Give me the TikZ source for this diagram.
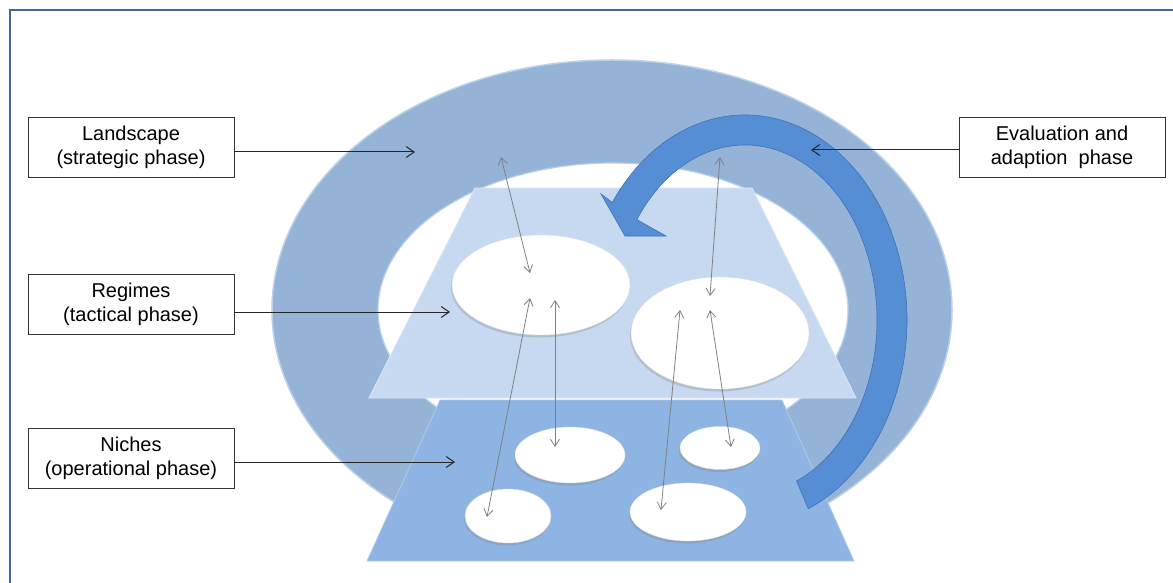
\documentclass[tikz,border=0pt]{standalone}
\usepackage{fontspec}
\setmainfont{Liberation Sans}
\usetikzlibrary{shapes.geometric,arrows.meta,shadows,calc}

\definecolor{ringblue}{RGB}{149,179,215}
\definecolor{ringrim}{RGB}{188,208,232}
\definecolor{regplane}{RGB}{198,217,240}
\definecolor{nicplane}{RGB}{141,180,226}
\definecolor{evalblue}{RGB}{85,142,212}
\definecolor{evaledge}{RGB}{66,114,178}
\definecolor{framecol}{RGB}{70,100,148}

\tikzset{
  phasebox/.style={draw=black!80, line width=0.9pt, fill=white, minimum width=206pt,
    minimum height=60pt, align=center, inner sep=0pt, font=\fontsize{20}{24}\selectfont},
  blob/.style={ellipse, fill=white, draw=black!12, line width=0.4pt, inner sep=0pt,
    drop shadow={opacity=0.3, shadow xshift=-1pt, shadow yshift=-2.5pt}},
  link/.style={draw=black!50, line width=0.8pt,
    {Straight Barb[length=7pt,width=9pt]}-{Straight Barb[length=7pt,width=9pt]}},
  callout/.style={draw=black!85, line width=1pt, -{Straight Barb[length=8pt,width=11pt]}},
}

\begin{document}
\begin{tikzpicture}[x=1pt,y=-1pt]
        \useasboundingbox (0,0) rectangle (1173,583);
        \draw[framecol, line width=2.2pt] (1173,10) -- (10,10) -- (10,583);

        % landscape ring
        \fill[ringblue, even odd rule] (612,310) ellipse [x radius=340, y radius=250]
                                       (613,310) ellipse [x radius=235, y radius=147];
        \draw[ringrim, line width=1.5pt] (612,310) ellipse [x radius=340, y radius=250];
        \draw[ringrim, line width=1.2pt] (613,310) ellipse [x radius=235, y radius=147];

        % planes
        \fill[nicplane, draw=nicplane!70!white, line width=0.8pt]
              (440,400) -- (782,400) -- (854,561) -- (367,561) -- cycle;
        \fill[regplane, draw=regplane!60!white, line width=0.8pt]
              (475,188) -- (752,188) -- (856,398) -- (369,398) -- cycle;

        % evaluation arrow
        \coordinate (evc) at (745,320);
        \filldraw[fill=evalblue, draw=evaledge, line width=0.6pt]
              (evc) ++(67:162 and 205) arc[start angle=67, end angle=-145, x radius=162, y radius=205]
              -- (601,194) -- (625,236) -- (666,236)
              -- ($(evc)+(-145:132 and 175)$) arc[start angle=-145, end angle=67, x radius=132, y radius=175]
              -- cycle;

        % regimes and niches
        \node[blob, minimum width=178pt, minimum height=100pt] (regL) at (541,285) {};
        \node[blob, minimum width=178pt, minimum height=112pt] (regR) at (720,333) {};
        \node[blob, minimum width=110pt, minimum height=56pt] (nicA) at (570,455) {};
        \node[blob, minimum width=80pt, minimum height=43pt] (nicB) at (720,448) {};
        \node[blob, minimum width=86pt, minimum height=54pt] (nicC) at (508,516) {};
        \node[blob, minimum width=116pt, minimum height=58pt] (nicD) at (688,512) {};

        \coordinate (ringL) at (501,157);
        \coordinate (ringR) at (720,157);
        \coordinate (regLtop) at (530,273);
        \coordinate (regLa) at (530,298);
        \coordinate (regLb) at (555,300);
        \coordinate (regRtop) at (710,296);
        \coordinate (regRa) at (680,310);
        \coordinate (regRb) at (710,310);
        \coordinate (nicAin) at (555,447);
        \coordinate (nicBin) at (731,447);
        \coordinate (nicCin) at (487,517);
        \coordinate (nicDin) at (661,510);

        \draw[link] (ringL) -- (regLtop);
        \draw[link] (ringR) -- (regRtop);
        \draw[link] (regLa) -- (nicCin);
        \draw[link] (regLb) -- (nicAin);
        \draw[link] (regRa) -- (nicDin);
        \draw[link] (regRb) -- (nicBin);

        % phase labels
        \node[phasebox] (land) at (131,147) {Landscape\\(strategic phase)};
        \node[phasebox] (regi) at (131,304) {Regimes\\(tactical phase)};
        \node[phasebox] (nich) at (131,458) {Niches\\(operational phase)};
        \node[phasebox] (eval) at (1062,147) {Evaluation and\\adaption\ \ phase};

        \coordinate (landend) at (415,152);
        \coordinate (regiend) at (450,312);
        \coordinate (nichend) at (455,462);
        \coordinate (evalend) at (811,150);

        \draw[callout] (land.east |- landend) -- (landend);
        \draw[callout] (regi.east |- regiend) -- (regiend);
        \draw[callout] (nich.east |- nichend) -- (nichend);
        \draw[callout] (eval.west |- evalend) -- (evalend);
\end{tikzpicture}
\end{document}
